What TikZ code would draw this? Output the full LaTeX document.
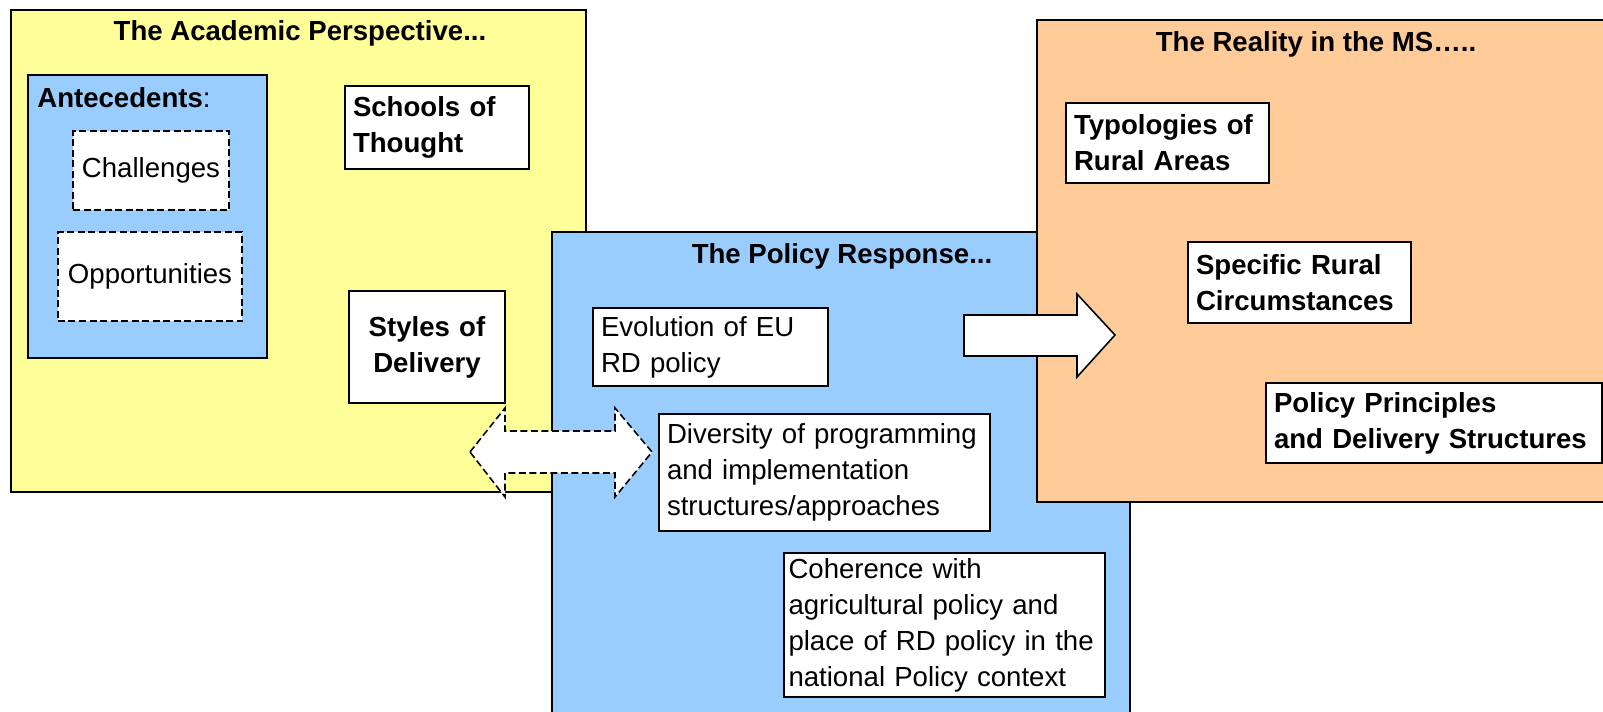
\documentclass[tikz,border=0pt]{standalone}
\usepackage{fontspec}
\setmainfont{Liberation Sans}
\definecolor{academicyellow}{HTML}{FFFF99}
\definecolor{policyblue}{HTML}{99CCFF}
\definecolor{realityorange}{HTML}{FFCC99}
\begin{document}
\begin{tikzpicture}[x=0.2mm, y=-0.2mm,
    plain/.style={font=\fontsize{15.7}{20.5}\selectfont},
    strong/.style={font=\fontsize{15.7}{20.5}\selectfont\bfseries},
    region/.style={draw, line width=0.9pt},
    heading/.style={strong, anchor=base, inner sep=0pt},
    textbox/.style={plain, draw, fill=white, line width=0.9pt, inner xsep=1.6mm, inner ysep=0pt, align=left},
    dashedbox/.style={textbox, dash pattern=on 1.4mm off 0.7mm, align=center},
    blockarrow/.style={draw, fill=white, line width=0.9pt}]

    \useasboundingbox (0,0) rectangle (1603,711);

    % Perspectiva académica (fondo amarillo)
    \draw[region, fill=academicyellow] (11,10) rectangle (586,492);
    \node[heading] (academic) at (300,40) {The Academic Perspective...};

    % Antecedentes con sus dos cuadros discontinuos
    \draw[region, fill=policyblue] (28,75) rectangle (267,358);
    \node[plain, anchor=base west, inner sep=0pt] (antecedents) at (37,107) {\textbf{Antecedents}:};
    \node[dashedbox, minimum width=31.2mm, minimum height=15.8mm] (challenges) at (151,170.5) {Challenges};
    \node[dashedbox, minimum width=36.8mm, minimum height=17.8mm] (opportunities) at (150,276.5) {Opportunities};

    % Escuelas y estilos
    \node[textbox, strong, text width=33.6mm, minimum height=16.6mm] (schools) at (437,127.5) {Schools of\\Thought};
    \node[textbox, strong, align=center, text width=28mm, minimum height=22.4mm] (styles) at (427,347) {Styles of\\Delivery};

    % Respuesta política (fondo azul, sale por abajo)
    \draw[region, fill=policyblue] (552,232) rectangle (1130,740);
    \node[heading] (policy) at (842,263) {The Policy Response...};
    \node[textbox, text width=43.8mm, minimum height=15.6mm] (evolution) at (710.5,347) {Evolution of EU\\RD policy};
    \node[textbox, text width=63mm, minimum height=23.4mm] (diversity) at (824.5,472.5) {Diversity of programming\\and implementation\\structures/approaches};
    \node[textbox, inner xsep=0.9mm, text width=62.4mm, minimum height=28.8mm] (coherence) at (944.5,625) {Coherence with\\agricultural policy and\\place of RD policy in the\\national Policy context};

    % Realidad en los EM (fondo naranja, sale por la derecha)
    \draw[region, fill=realityorange] (1037,20) rectangle (1640,502);
    \node[heading] (reality) at (1316,51) {The Reality in the MS…..};
    \node[textbox, strong, text width=37.4mm, minimum height=16mm] (typologies) at (1167.5,143) {Typologies of\\Rural Areas};
    \node[textbox, strong, text width=41.4mm, minimum height=16.2mm] (specific) at (1299.5,282.5) {Specific Rural\\Circumstances};
    \node[textbox, strong, text width=64mm, minimum height=16mm] (principles) at (1434,423) {Policy Principles\\and Delivery Structures};

    % Flecha gruesa hacia la realidad
    \draw[blockarrow] (964,315) -- (1077,315) -- (1077,294) -- (1115,335)
        -- (1077,377) -- (1077,356) -- (964,356) -- cycle;

    % Flecha doble discontinua entre estilos y diversidad
    \draw[blockarrow, dash pattern=on 1.4mm off 0.7mm] (470,452) -- (505,408) -- (505,431)
        -- (615,431) -- (615,408) -- (652,452) -- (615,497) -- (615,473)
        -- (505,473) -- (505,497) -- cycle;

\end{tikzpicture}
\end{document}
